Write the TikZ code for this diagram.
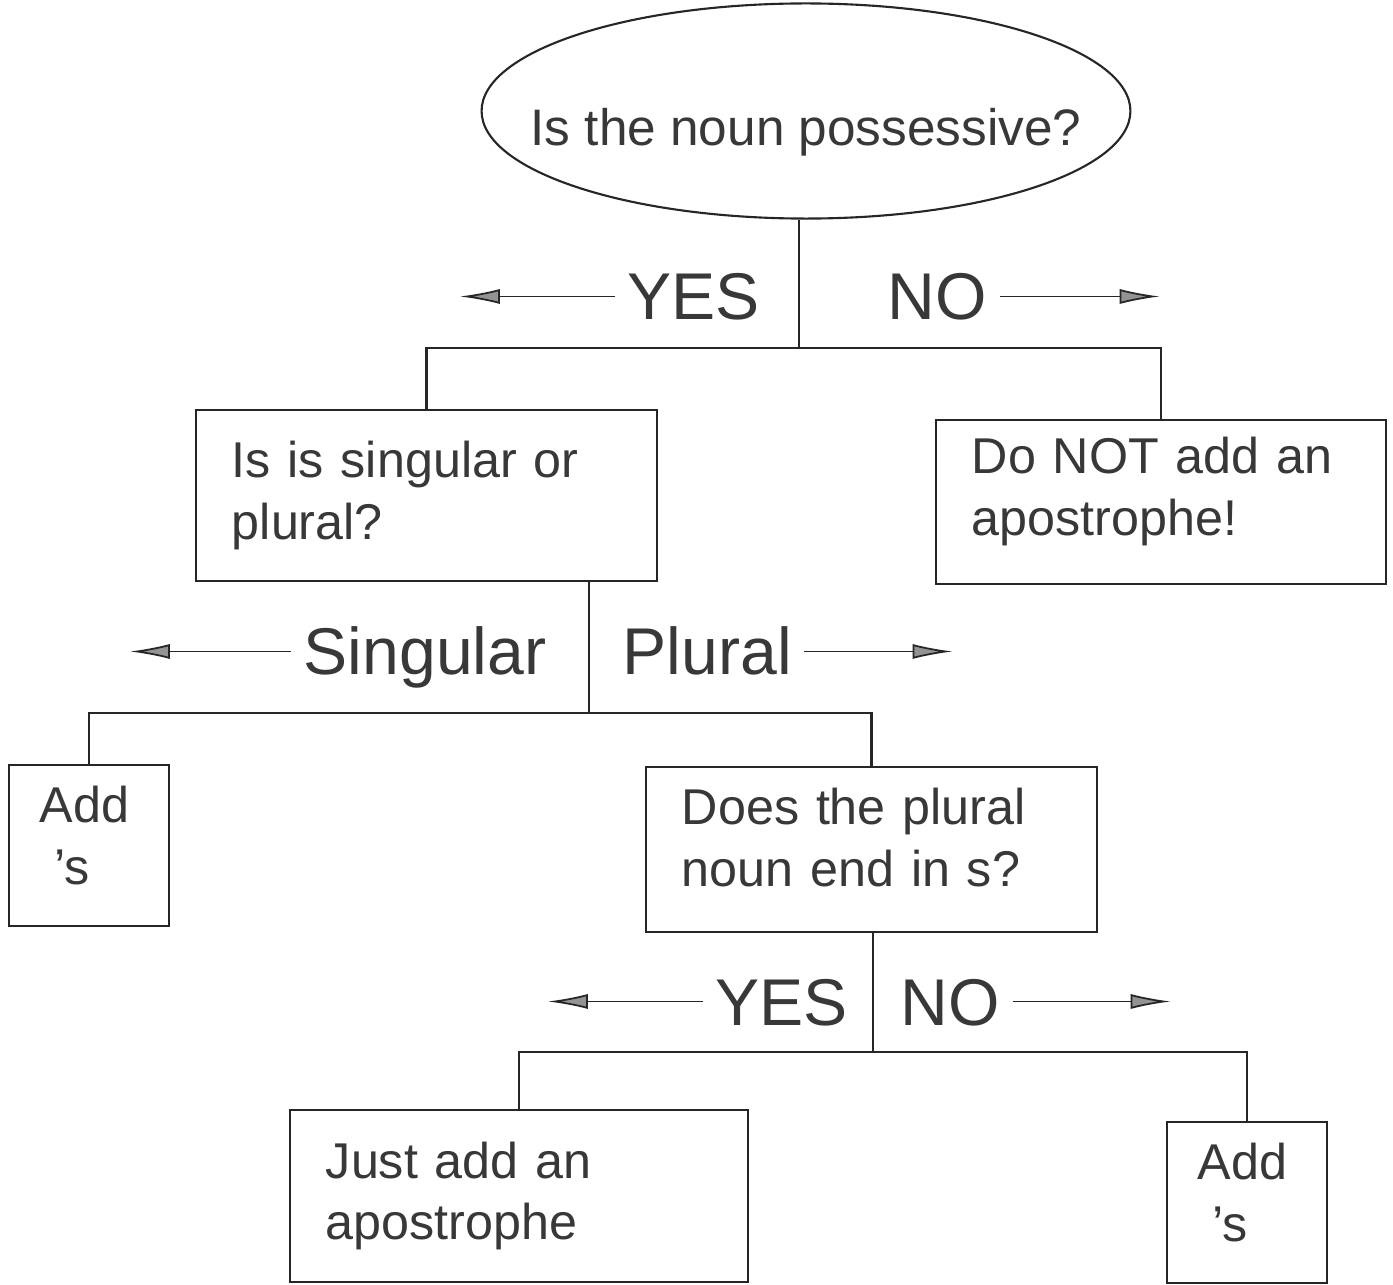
\documentclass[tikz,border=0pt]{standalone}
\usepackage{fontspec}
\setmainfont{Liberation Sans}
\usepackage{tikz}
\usepackage{xcolor}
\usetikzlibrary{shapes.geometric, arrows.meta, positioning}
\definecolor{inkline}{gray}{0.15}
\definecolor{inktext}{gray}{0.22}
\tikzset{
    flow-line/.style = {draw=inkline, line width=0.6pt},
    question-oval/.style = {draw=inkline, ellipse, line width=0.6pt, minimum width=6.42cm, minimum height=2.15cm, inner xsep=-0.46cm, inner ysep=0pt, text=inktext, font=\fontsize{14.6}{17}\selectfont, text height=0.68cm, text depth=0pt},
    flow-box/.style = {draw=inkline, rectangle, line width=0.6pt, inner xsep=0.36cm, align=left, text=inktext, font=\fontsize{14.3}{17.5}\selectfont},
    small-box/.style = {flow-box, inner xsep=0.31cm, minimum width=1.6cm, minimum height=1.61cm, text width=0.98cm, text depth=0.82cm},
    branch-label/.style = {font=\fontsize{18.8}{22}\selectfont, text=inktext, inner xsep=0.12cm, inner ysep=0pt, text height=0.47cm, text depth=0pt},
    branch-arrow/.style = {draw=inkline, line width=0.5pt, -{Latex[length=0.4cm, width=0.15cm, fill=inkline!50]}},
}
\begin{document}
\begin{tikzpicture}[x=0.01cm, y=-0.01cm]
\path[use as bounding box, fill=white] (0,0) rectangle (1393,1285);

\node[question-oval] (q-possessive) at (806,111) {Is the noun possessive?};
\node[flow-box, minimum width=4.61cm, minimum height=1.71cm, text width=3.89cm] (box-number) at (426.5,495.5) {Is is singular or\\plural?};
\node[flow-box, minimum width=4.50cm, minimum height=1.64cm, text width=3.78cm, text depth=0.93cm] (box-no-apos) at (1161,502) {Do NOT add an\\apostrophe!};
\node[small-box] (box-add-sing) at (89,845.5) {Add\\\hspace*{0.28em}'s};
\node[flow-box, minimum width=4.51cm, minimum height=1.65cm, text width=3.79cm, text depth=0.86cm] (box-ends-s) at (871.5,849.5) {Does the plural\\noun end in s?};
\node[flow-box, minimum width=4.58cm, minimum height=1.72cm, text width=3.86cm] (box-just-apos) at (519,1196) {Just add an\\apostrophe};
\node[small-box] (box-add-plur) at (1247,1202.5) {Add\\\hspace*{0.28em}'s};

\coordinate (j-top) at (799,348);
\coordinate (j-mid) at (589,713);
\coordinate (j-low) at (873,1052);

\draw[flow-line] (q-possessive.south -| j-top) -- (j-top);
\draw[flow-line] (box-number.north) |- (j-top) -| (box-no-apos.north);
\draw[flow-line] (box-number.south -| j-mid) -- (j-mid);
\draw[flow-line] (box-add-sing.north) |- (j-mid) -| (box-ends-s.north);
\draw[flow-line] (box-ends-s.south -| j-low) -- (j-low);
\draw[flow-line] (box-just-apos.north) |- (j-low) -| (box-add-plur.north);

\node[branch-label, anchor=base west] (lbl-yes-top) at (615,320) {YES};
\node[branch-label, anchor=base west] (lbl-no-top) at (875,320) {NO};
\node[branch-label, anchor=base west] (lbl-singular) at (291,675) {Singular};
\node[branch-label, anchor=base west] (lbl-plural) at (610,675) {Plural};
\node[branch-label, anchor=base west] (lbl-yes-low) at (703,1025) {YES};
\node[branch-label, anchor=base west] (lbl-no-low) at (888,1025) {NO};

\coordinate[left=1.55cm of lbl-yes-top] (tip-yes-top);
\coordinate[right=1.6cm of lbl-no-top] (tip-no-top);
\coordinate[left=1.61cm of lbl-singular] (tip-singular);
\coordinate[right=1.48cm of lbl-plural] (tip-plural);
\coordinate[left=1.55cm of lbl-yes-low] (tip-yes-low);
\coordinate[right=1.58cm of lbl-no-low] (tip-no-low);

\draw[branch-arrow] (lbl-yes-top) -- (tip-yes-top);
\draw[branch-arrow] (lbl-no-top) -- (tip-no-top);
\draw[branch-arrow] (lbl-singular) -- (tip-singular);
\draw[branch-arrow] (lbl-plural) -- (tip-plural);
\draw[branch-arrow] (lbl-yes-low) -- (tip-yes-low);
\draw[branch-arrow] (lbl-no-low) -- (tip-no-low);
\end{tikzpicture}
\end{document}
